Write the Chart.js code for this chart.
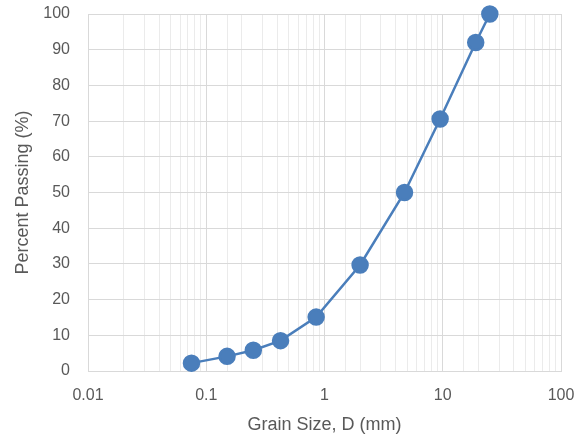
<!DOCTYPE html>
<html>
<head>
  <title>Grain Size Distribution</title>
  <script src="https://cdn.jsdelivr.net/npm/chart.js@4.4.1/dist/chart.umd.min.js"></script>
  <style>
    html, body { margin: 0; padding: 0; background: #fff; }
  </style>
</head>
<body>
  <canvas id="gsd-chart" width="584" height="437"></canvas>
  <script>
    // sieve openings (mm) and percent passing
    const grainSize = [0.075, 0.15, 0.25, 0.425, 0.85, 2, 4.75, 9.5, 19, 25];
    const percentPassing = [2.2, 4.1, 5.8, 8.5, 15.1, 29.7, 50.0, 70.6, 92.0, 100];
    const xTickLabels = ['0.01', '0.1', '1', '10', '100'];

    const isDecade = v => Math.abs(Math.log10(v) - Math.round(Math.log10(v))) < 1e-9;
    const family = "'Liberation Sans', Arial, sans-serif";
    const tickFont = { family: family, size: 16 };
    const titleFont = { family: family, size: 18 };

    new Chart(document.getElementById('gsd-chart').getContext('2d'), {
      type: 'line',
      data: {
        datasets: [{
          data: grainSize.map((d, i) => ({ x: d, y: percentPassing[i] })),
          borderColor: '#4a7ebb',
          backgroundColor: '#4a7ebb',
          borderWidth: 2.5,
          pointRadius: 7.5,
          pointHoverRadius: 7.5,
          tension: 0,
          clip: false
        }]
      },
      options: {
        responsive: false,
        animation: false,
        layout: { padding: { top: 14, right: 23, left: 0, bottom: 0 } },
        plugins: { legend: { display: false }, tooltip: { enabled: false } },
        scales: {
          x: {
            type: 'logarithmic',
            min: 0.01,
            max: 100,
            border: { color: '#d9d9d9' },
            grid: {
              drawTicks: false,
              color: ctx => (ctx.tick && isDecade(ctx.tick.value)) ? '#d9d9d9' : '#ebebeb'
            },
            ticks: {
              autoSkip: false,
              maxRotation: 0,
              padding: 15,
              color: '#595959',
              font: tickFont,
              callback: v => {
                const s = String(+v.toPrecision(6));
                return xTickLabels.includes(s) ? s : '';
              }
            },
            title: { display: true, text: 'Grain Size, D (mm)', color: '#595959', font: titleFont, padding: { top: 4, bottom: 1 } },
            afterFit: s => { s.height = 66; s.paddingLeft = 0; s.paddingRight = 0; }
          },
          y: {
            min: 0,
            max: 100,
            border: { color: '#d9d9d9' },
            grid: { drawTicks: false, color: '#d9d9d9' },
            ticks: { stepSize: 10, padding: 18, color: '#595959', font: tickFont },
            title: { display: true, text: 'Percent Passing (%)', color: '#595959', font: titleFont, padding: { top: 12, bottom: 0 } },
            afterFit: s => { s.width = 88; s.paddingTop = 0; s.paddingBottom = 0; }
          }
        }
      }
    });
  </script>
</body>
</html>
